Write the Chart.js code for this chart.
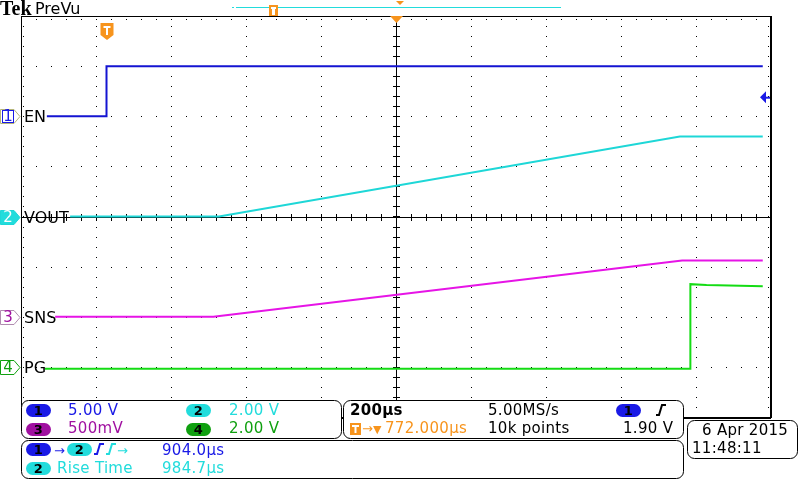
<!DOCTYPE html>
<html lang="en">
<head>
<meta charset="utf-8">
<title>Tek PreVu</title>
<script src="https://cdn.jsdelivr.net/npm/chart.js@4.4.1/dist/chart.umd.min.js"></script>
<style>
  html, body { margin: 0; padding: 0; background: #fff; }
  #scope { display: block; }
</style>
</head>
<body>
<canvas id="scope" width="800" height="480"></canvas>
<script>
// time in µs from the trigger (EN rising edge), values in volts
const enTime = [-159, 0, 0, 1750];
const enVolts = [0, 0, 5, 5];
const voutTime = [-97, 300, 1529, 1750];
const voutVolts = [0, 0, 3.19, 3.19];
const snsTime = [-137, 285, 1535, 1750];
const snsVolts = [0, 0, 0.56, 0.56];
const pgTime = [-164, 1557, 1557, 1600, 1750];
const pgVolts = [-0.07, -0.07, 3.3, 3.27, 3.22];

const channelNames = ["EN", "VOUT", "SNS", "PG"];
const voltsPerDiv = [5, 2, 0.5, 2];
const groundDiv = [2, 0, -2, -3];
const traceColors = ["#1414d2", "#1ed7d7", "#e614e6", "#14dc14"];

const usPerDiv = 200;
const timeMin = -228;
const timeMax = 1772;
const triggerLevel = 1.9;

const ORANGE = "#f7941d";
const BLUE = "#1a1ae6";
const CYAN = "#22dcdc";
const PURPLE = "#a010a0";
const GREEN = "#10a010";
const FONT = "'DejaVu Sans', sans-serif";

function toPoints(times, volts, ch) {
  return times.map((t, i) => ({ x: t, y: groundDiv[ch] + volts[i] / voltsPerDiv[ch] }));
}

function roundRect(ctx, x, y, w, h, r) {
  ctx.beginPath();
  ctx.moveTo(x + r, y);
  ctx.arcTo(x + w, y, x + w, y + h, r);
  ctx.arcTo(x + w, y + h, x, y + h, r);
  ctx.arcTo(x, y + h, x, y, r);
  ctx.arcTo(x, y, x + w, y, r);
  ctx.closePath();
}

function badge(ctx, x, y, w, h, fill, label) {
  roundRect(ctx, x, y, w, h, h / 2);
  ctx.fillStyle = fill;
  ctx.fill();
  ctx.fillStyle = "#000";
  ctx.font = "bold 13px " + FONT;
  ctx.textAlign = "center";
  ctx.textBaseline = "middle";
  ctx.fillText(label, x + w / 2, y + h / 2 + 1);
  ctx.textAlign = "left";
  ctx.textBaseline = "alphabetic";
}

function edgeIcon(ctx, x, y, color) {
  ctx.strokeStyle = color;
  ctx.lineWidth = 2;
  ctx.beginPath();
  ctx.moveTo(x, y + 11);
  ctx.lineTo(x + 3, y + 11);
  ctx.lineTo(x + 6, y + 1);
  ctx.lineTo(x + 10, y + 1);
  ctx.stroke();
}

function text(ctx, str, x, y, color, font) {
  ctx.fillStyle = color;
  ctx.font = font || "15px " + FONT;
  ctx.fillText(str, x, y);
}

const scopeGrid = {
  id: "scopeGrid",
  beforeDatasetsDraw(chart) {
    const { ctx, chartArea: a, scales: { x, y } } = chart;
    const minorT = usPerDiv / 5;
    ctx.save();
    ctx.fillStyle = "#000";
    // dotted division lines
    for (let d = 1; d < 10; d++) {
      if (d === 5) continue;
      const px = Math.round(x.getPixelForValue(timeMin + d * usPerDiv));
      for (let v = -4; v <= 4.001; v += 0.2) {
        ctx.fillRect(px, Math.round(y.getPixelForValue(v)), 1, 1);
      }
    }
    for (let d = -3; d <= 3; d++) {
      if (d === 0) continue;
      const py = Math.round(y.getPixelForValue(d));
      for (let t = timeMin; t <= timeMax + 1; t += minorT) {
        ctx.fillRect(Math.round(x.getPixelForValue(t)), py, 1, 1);
      }
    }
    // centre cross with minor ticks
    const cx = Math.round(x.getPixelForValue(timeMin + 5 * usPerDiv));
    const cy = Math.round(y.getPixelForValue(0));
    ctx.fillRect(a.left, cy, a.right - a.left, 1);
    ctx.fillRect(cx, a.top, 1, a.bottom - a.top);
    for (let t = timeMin; t <= timeMax + 1; t += minorT) {
      const px = Math.round(x.getPixelForValue(t));
      ctx.fillRect(px, cy - 3, 1, 7);
      ctx.fillRect(px, Math.round(a.top) + 3, 1, 1);
    }
    for (let v = -4; v <= 4.001; v += 0.2) {
      const py = Math.round(y.getPixelForValue(v));
      ctx.fillRect(cx - 3, py, 7, 1);
      ctx.fillRect(Math.round(a.left) + 2, py, 1, 1);
      ctx.fillRect(Math.round(a.right) - 3, py, 1, 1);
    }
    // border
    ctx.fillRect(a.left, a.top, a.right - a.left, 1);
    ctx.fillRect(a.left, a.top, 1, a.bottom - a.top);
    ctx.fillRect(a.right - 1, a.top, 2, a.bottom - a.top + 1);
    ctx.fillRect(a.left, a.bottom, a.right - a.left, 2);
    ctx.restore();
  }
};

const scopeOverlay = {
  id: "scopeOverlay",
  afterDatasetsDraw(chart) {
    const { ctx, chartArea: a, scales: { x, y } } = chart;
    ctx.save();

    // header
    text(ctx, "Tek", 0, 15, "#000", "bold 20px 'Liberation Serif', serif");
    text(ctx, "PreVu", 35, 14, "#000", "16px " + FONT);

    // record bar at top
    ctx.fillStyle = CYAN;
    ctx.fillRect(232, 7, 2, 1);
    ctx.fillRect(236, 7, 325, 1);
    ctx.fillStyle = ORANGE;
    ctx.fillRect(269, 5, 9, 11);
    ctx.fillStyle = "#fff";
    ctx.fillRect(271, 7, 5, 2);
    ctx.fillRect(272, 7, 3, 8);
    ctx.fillStyle = ORANGE;
    ctx.beginPath();
    ctx.moveTo(396, 1); ctx.lineTo(404, 1); ctx.lineTo(400, 5); ctx.closePath(); ctx.fill();
    const cx = x.getPixelForValue(timeMin + 5 * usPerDiv);
    ctx.beginPath();
    ctx.moveTo(cx - 6, a.top); ctx.lineTo(cx + 7, a.top); ctx.lineTo(cx + 0.5, a.top + 7); ctx.closePath(); ctx.fill();

    // trigger marker in the graticule
    const tx = x.getPixelForValue(0);
    ctx.fillStyle = ORANGE;
    ctx.beginPath();
    ctx.moveTo(tx - 6, 23); ctx.lineTo(tx + 7, 23); ctx.lineTo(tx + 7, 35);
    ctx.lineTo(tx + 0.5, 40); ctx.lineTo(tx - 6, 35); ctx.closePath(); ctx.fill();
    ctx.fillStyle = "#fff";
    ctx.fillRect(tx - 3, 26, 7, 2);
    ctx.fillRect(tx - 0.5, 26, 2, 9);

    // trigger level arrow on the right
    const ty = y.getPixelForValue(groundDiv[0] + triggerLevel / voltsPerDiv[0]);
    ctx.fillStyle = BLUE;
    ctx.beginPath();
    ctx.moveTo(a.right - 11, ty); ctx.lineTo(a.right - 5, ty - 6); ctx.lineTo(a.right - 5, ty + 6);
    ctx.closePath(); ctx.fill();
    ctx.fillRect(a.right - 6, ty - 0.5, 5, 2);

    // channel ground markers and names
    const markerStroke = ["#b4b478", "#1ed7d7", "#b08cb0", GREEN];
    const markerText = [BLUE, "#ffffff", PURPLE, GREEN];
    channelNames.forEach((name, ch) => {
      const gy = Math.round(y.getPixelForValue(groundDiv[ch])) + 0.5;
      ctx.beginPath();
      ctx.moveTo(0.5, gy - 7); ctx.lineTo(14, gy - 7); ctx.lineTo(20, gy);
      ctx.lineTo(14, gy + 7); ctx.lineTo(0.5, gy + 7); ctx.closePath();
      ctx.fillStyle = ch === 1 ? CYAN : "#fff";
      ctx.fill();
      ctx.strokeStyle = markerStroke[ch];
      ctx.lineWidth = 1;
      ctx.stroke();
      if (ch === 0) {
        ctx.strokeStyle = BLUE;
        ctx.strokeRect(2.5, gy - 6, 11, 12);
      }
      ctx.fillStyle = markerText[ch];
      ctx.font = "15px " + FONT;
      ctx.textAlign = "center";
      ctx.textBaseline = "middle";
      ctx.fillText(String(ch + 1), 8, gy + 1);
      ctx.textAlign = "left";
      ctx.fillStyle = "#000";
      ctx.font = "16px " + FONT;
      ctx.fillText(name, 24, gy + 1);
      ctx.textBaseline = "alphabetic";
    });

    // info panels
    ctx.lineWidth = 1;
    ctx.strokeStyle = "#000";
    [[21.5, 400.5, 320, 38], [343.5, 400.5, 340, 38], [21.5, 440.5, 662, 38], [687.5, 420.5, 110, 38]]
      .forEach(([px, py, w, h]) => {
        roundRect(ctx, px, py, w, h, 7);
        ctx.fillStyle = "#fff";
        ctx.fill();
        ctx.stroke();
      });

    ctx.letterSpacing = "0.3px";
    badge(ctx, 26, 404, 25, 13, BLUE, "1");
    text(ctx, "5.00 V", 68, 415, BLUE);
    badge(ctx, 186, 404, 25, 13, CYAN, "2");
    text(ctx, "2.00 V", 229, 415, CYAN);
    badge(ctx, 26, 423, 25, 13, PURPLE, "3");
    text(ctx, "500mV", 68, 433, PURPLE);
    badge(ctx, 186, 423, 25, 13, GREEN, "4");
    text(ctx, "2.00 V", 229, 433, GREEN);

    text(ctx, "200µs", 350, 415, "#000", "bold 15px " + FONT);
    text(ctx, "5.00MS/s", 488, 415, "#000");
    badge(ctx, 616, 404, 25, 13, BLUE, "1");
    edgeIcon(ctx, 656, 404, "#000");
    ctx.fillStyle = ORANGE;
    ctx.fillRect(350, 423, 11, 12);
    ctx.fillStyle = "#fff";
    ctx.fillRect(352, 425, 7, 2);
    ctx.fillRect(354.5, 425, 2, 8);
    text(ctx, "→", 362, 433, ORANGE, "13px " + FONT);
    text(ctx, "▼", 373, 433, ORANGE, "11px " + FONT);
    text(ctx, "772.000µs", 385, 433, ORANGE);
    text(ctx, "10k points", 488, 433, "#000");
    text(ctx, "1.90 V", 623, 433, "#000");

    badge(ctx, 26, 443, 25, 13, BLUE, "1");
    text(ctx, "→", 54, 455, BLUE, "13px " + FONT);
    badge(ctx, 67, 443, 25, 13, CYAN, "2");
    edgeIcon(ctx, 94, 443, BLUE);
    edgeIcon(ctx, 106, 443, CYAN);
    text(ctx, "→", 117, 455, CYAN, "13px " + FONT);
    text(ctx, "904.0µs", 162, 455, BLUE);
    badge(ctx, 26, 462, 25, 13, CYAN, "2");
    text(ctx, "Rise Time", 57, 473, CYAN);
    text(ctx, "984.7µs", 162, 473, CYAN);

    text(ctx, "6 Apr 2015", 702, 435, "#000");
    text(ctx, "11:48:11", 692, 453, "#000");
    ctx.restore();
  }
};

const datasets = [
  { label: channelNames[3], data: toPoints(pgTime, pgVolts, 3), borderColor: traceColors[3] },
  { label: channelNames[2], data: toPoints(snsTime, snsVolts, 2), borderColor: traceColors[2] },
  { label: channelNames[1], data: toPoints(voutTime, voutVolts, 1), borderColor: traceColors[1] },
  { label: channelNames[0], data: toPoints(enTime, enVolts, 0), borderColor: traceColors[0] }
].map(ds => Object.assign(ds, { borderWidth: 2, pointRadius: 0, tension: 0, fill: false }));

new Chart(document.getElementById("scope").getContext("2d"), {
  type: "line",
  data: { datasets: datasets },
  options: {
    responsive: false,
    animation: false,
    layout: { padding: { left: 21, right: 29, top: 16, bottom: 63 } },
    plugins: { legend: { display: false }, tooltip: { enabled: false } },
    scales: {
      x: { type: "linear", min: timeMin, max: timeMax, display: false },
      y: { type: "linear", min: -4, max: 4, display: false }
    }
  },
  plugins: [scopeGrid, scopeOverlay]
});
</script>
</body>
</html>
